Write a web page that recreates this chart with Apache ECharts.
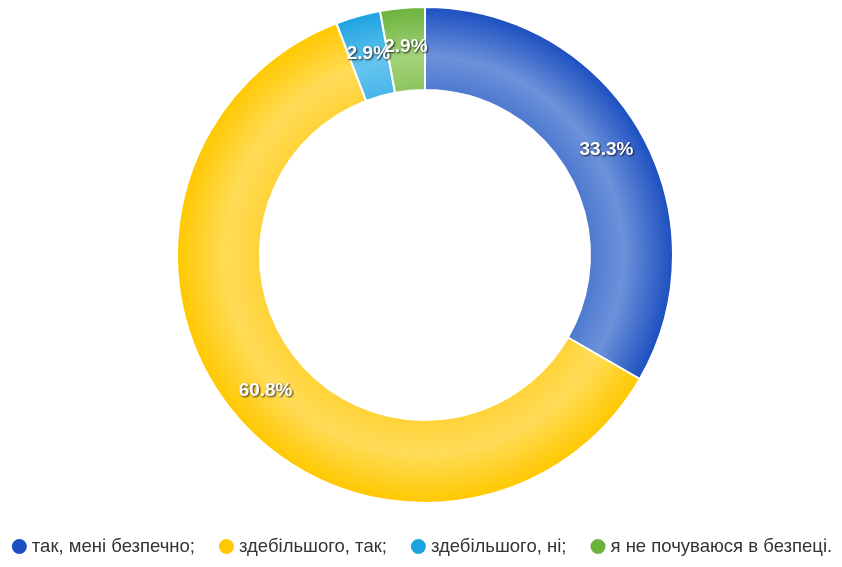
<!DOCTYPE html>
<html>
<head>
<meta charset="utf-8">
<style>
  html, body { margin: 0; padding: 0; background: #fff; }
  #chart { width: 842px; height: 567px; }
</style>
<script src="https://cdn.jsdelivr.net/npm/echarts@6/dist/echarts.min.js"></script>
</head>
<body>
<div id="chart"></div>
<script>
const categories = ['так, мені безпечно;', 'здебільшого, так;', 'здебільшого, ні;', 'я не почуваюся в безпеці.'];
const values = [33.3, 60.8, 2.9, 2.9];
const colors = ['#1c4fc0', '#ffc800', '#1da3e0', '#6cb33c'];
const midColors = ['#4c78cf', '#ffd236', '#45b5e8', '#8cc45e'];
const lightColors = ['#6d92da', '#ffdc58', '#66c4ee', '#a2d27a'];

const cx = 425, cy = 255, outerR = 248, innerR = 165;

const chart = echarts.init(document.getElementById('chart'));

const data = categories.map((name, i) => ({
    name,
    value: values[i],
    itemStyle: {
        color: new echarts.graphic.RadialGradient(cx, cy, outerR, [
            { offset: 0, color: midColors[i] },
            { offset: 0.66, color: midColors[i] },
            { offset: 0.8, color: lightColors[i] },
            { offset: 1, color: colors[i] }
        ], true)
    }
}));

chart.setOption({
    animation: false,
    color: colors,
    legend: {
        bottom: 6,
        left: 'center',
        icon: 'circle',
        itemWidth: 17,
        itemHeight: 17,
        itemGap: 22,
        textStyle: {
            fontFamily: 'Liberation Sans',
            fontSize: 18.5,
            color: '#333',
            padding: [0, 0, 0, -1]
        },
        data: categories.map((name, i) => ({ name, itemStyle: { color: colors[i] } }))
    },
    series: [{
        type: 'pie',
        center: [cx, cy],
        radius: [innerR, outerR],
        startAngle: 90,
        clockwise: true,
        data,
        itemStyle: {
            borderColor: '#fff',
            borderWidth: 2
        },
        label: {
            show: true,
            position: 'inside',
            formatter: p => p.value.toFixed(1) + '%',
            color: '#fff',
            fontFamily: 'Liberation Sans',
            fontWeight: 'bold',
            fontSize: 19,
            textShadowColor: 'rgba(0,0,0,0.8)',
            textShadowBlur: 2,
            textShadowOffsetX: 1,
            textShadowOffsetY: 1
        },
        labelLayout: { hideOverlap: false },
        labelLine: { show: false },
        emphasis: { disabled: true }
    }]
});
</script>
</body>
</html>
